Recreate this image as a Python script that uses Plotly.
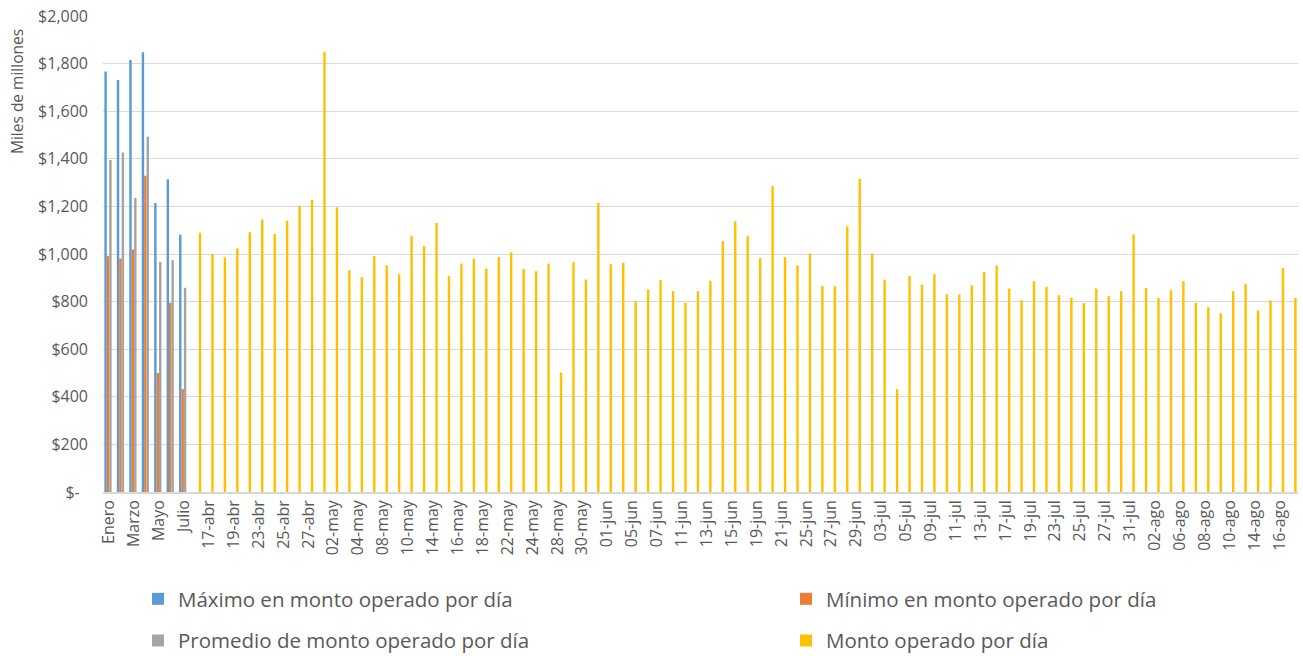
import plotly.graph_objects as go

# Categorías: resumen mensual y luego días hábiles
meses = ["Enero", "Febrero", "Marzo", "Abril", "Mayo", "Junio", "Julio"]
dias = [
    "16-abr", "17-abr", "18-abr", "19-abr", "20-abr", "23-abr", "24-abr", "25-abr", "26-abr", "27-abr",
    "30-abr", "02-may", "03-may", "04-may", "07-may", "08-may", "09-may", "10-may", "11-may", "14-may",
    "15-may", "16-may", "17-may", "18-may", "21-may", "22-may", "23-may", "24-may", "25-may", "28-may",
    "29-may", "30-may", "31-may", "01-jun", "04-jun", "05-jun", "06-jun", "07-jun", "08-jun", "11-jun",
    "12-jun", "13-jun", "14-jun", "15-jun", "18-jun", "19-jun", "20-jun", "21-jun", "22-jun", "25-jun",
    "26-jun", "27-jun", "28-jun", "29-jun", "02-jul", "03-jul", "04-jul", "05-jul", "06-jul", "09-jul",
    "10-jul", "11-jul", "12-jul", "13-jul", "16-jul", "17-jul", "18-jul", "19-jul", "20-jul", "23-jul",
    "24-jul", "25-jul", "26-jul", "27-jul", "30-jul", "31-jul", "01-ago", "02-ago", "03-ago", "06-ago",
    "07-ago", "08-ago", "09-ago", "10-ago", "13-ago", "14-ago", "15-ago", "16-ago", "17-ago",
]

# Estadísticas mensuales (miles de millones)
maximo = [1767, 1731, 1815, 1848, 1214, 1314, 1081]
minimo = [991, 981, 1019, 1329, 500, 795, 432]
promedio = [1395, 1426, 1235, 1493, 967, 974, 858]

# Monto operado por día (miles de millones)
monto = [
    1089, 1000, 986, 1024, 1091, 1145, 1084, 1140, 1203, 1227,
    1850, 1196, 932, 903, 991, 953, 915, 1075, 1033, 1130,
    907, 960, 980, 939, 987, 1007, 937, 928, 960, 502,
    965, 893, 1214, 957, 963, 802, 851, 890, 844, 795,
    844, 887, 1054, 1138, 1075, 983, 1286, 987, 952, 1002,
    866, 866, 1117, 1315, 1002, 892, 432, 907, 871, 915,
    831, 830, 868, 925, 952, 855, 806, 886, 862, 827,
    816, 794, 855, 823, 844, 1082, 857, 815, 848, 886,
    795, 777, 751, 844, 873, 763, 805, 941, 815,
]

# Marcas del eje vertical
y_ticks = [0, 200, 400, 600, 800, 1000, 1200, 1400, 1600, 1800, 2000]
y_ticktext = ["$-\u00a0\u00a0", "$200", "$400", "$600", "$800", "$1,000", "$1,200",
              "$1,400", "$1,600", "$1,800", "$2,000"]

categorias = meses + dias
etiquetas_x = categorias[::2]

FONT = "Open Sans"
GRIS_TEXTO = "#595959"

fig = go.Figure()
fig.add_trace(go.Bar(x=meses, y=maximo, name="Máximo en monto operado por día",
                     marker_color="#5B9BD5", marker_line_width=0,
                     legend="legend", legendgroup="a"))
fig.add_trace(go.Bar(x=meses, y=minimo, name="Mínimo en monto operado por día",
                     marker_color="#ED7D31", marker_line_width=0,
                     legend="legend2", legendgroup="b"))
fig.add_trace(go.Bar(x=meses, y=promedio, name="Promedio de monto operado por día",
                     marker_color="#A5A5A5", marker_line_width=0,
                     legend="legend", legendgroup="c"))
fig.add_trace(go.Bar(x=dias, y=monto, name="Monto operado por día",
                     marker_color="#FFC000", marker_line_width=0,
                     legend="legend2", legendgroup="d"))

# Geometría del área de trazado (px)
L, R, T, B = 103, 5, 16, 164
W, H = 1303, 656
pw, ph = W - L - R, H - T - B


def px_x(px):
    return (px - L) / pw


def px_y(py):
    return (H - B - py) / ph


legend_style = dict(
    orientation="v", xref="paper", yref="paper", xanchor="left", yanchor="top",
    font=dict(family=FONT, size=20.5, color=GRIS_TEXTO),
    tracegroupgap=12, bgcolor="rgba(0,0,0,0)", itemclick=False,
)

fig.update_layout(
    width=W, height=H,
    margin=dict(l=L, r=R, t=T, b=B, autoexpand=False),
    paper_bgcolor="white", plot_bgcolor="white",
    barmode="group", bargap=0.22, bargroupgap=0,
    font=dict(family=FONT, color=GRIS_TEXTO),
    showlegend=True,
    legend=dict(x=px_x(138), y=px_y(579), **legend_style),
    legend2=dict(x=px_x(786), y=px_y(579), **legend_style),
    xaxis=dict(
        type="category", categoryorder="array", categoryarray=categorias,
        tickmode="array", tickvals=etiquetas_x, ticktext=etiquetas_x,
        tickangle=-90, tickfont=dict(family=FONT, size=16, color=GRIS_TEXTO),
        showgrid=False, showline=True, linecolor="#D9D9D9", linewidth=1.5,
        ticks="", range=[-0.5, len(categorias) - 0.5],
    ),
    yaxis=dict(
        range=[0, 2000], tickmode="array", tickvals=y_ticks, ticktext=y_ticktext,
        tickfont=dict(family=FONT, size=16, color=GRIS_TEXTO),
        showgrid=True, gridcolor="#D9D9D9", gridwidth=1.3,
        zeroline=False, showline=False, ticks="", ticklabelstandoff=14,
    ),
    annotations=[
        dict(text="Miles de millones", textangle=-90, xref="paper", yref="paper",
             x=px_x(17), y=px_y(92), xanchor="center", yanchor="middle", showarrow=False,
             font=dict(family=FONT, size=15.5, color=GRIS_TEXTO)),
    ],
)

fig.write_html("out.html", config={"displayModeBar": False})
